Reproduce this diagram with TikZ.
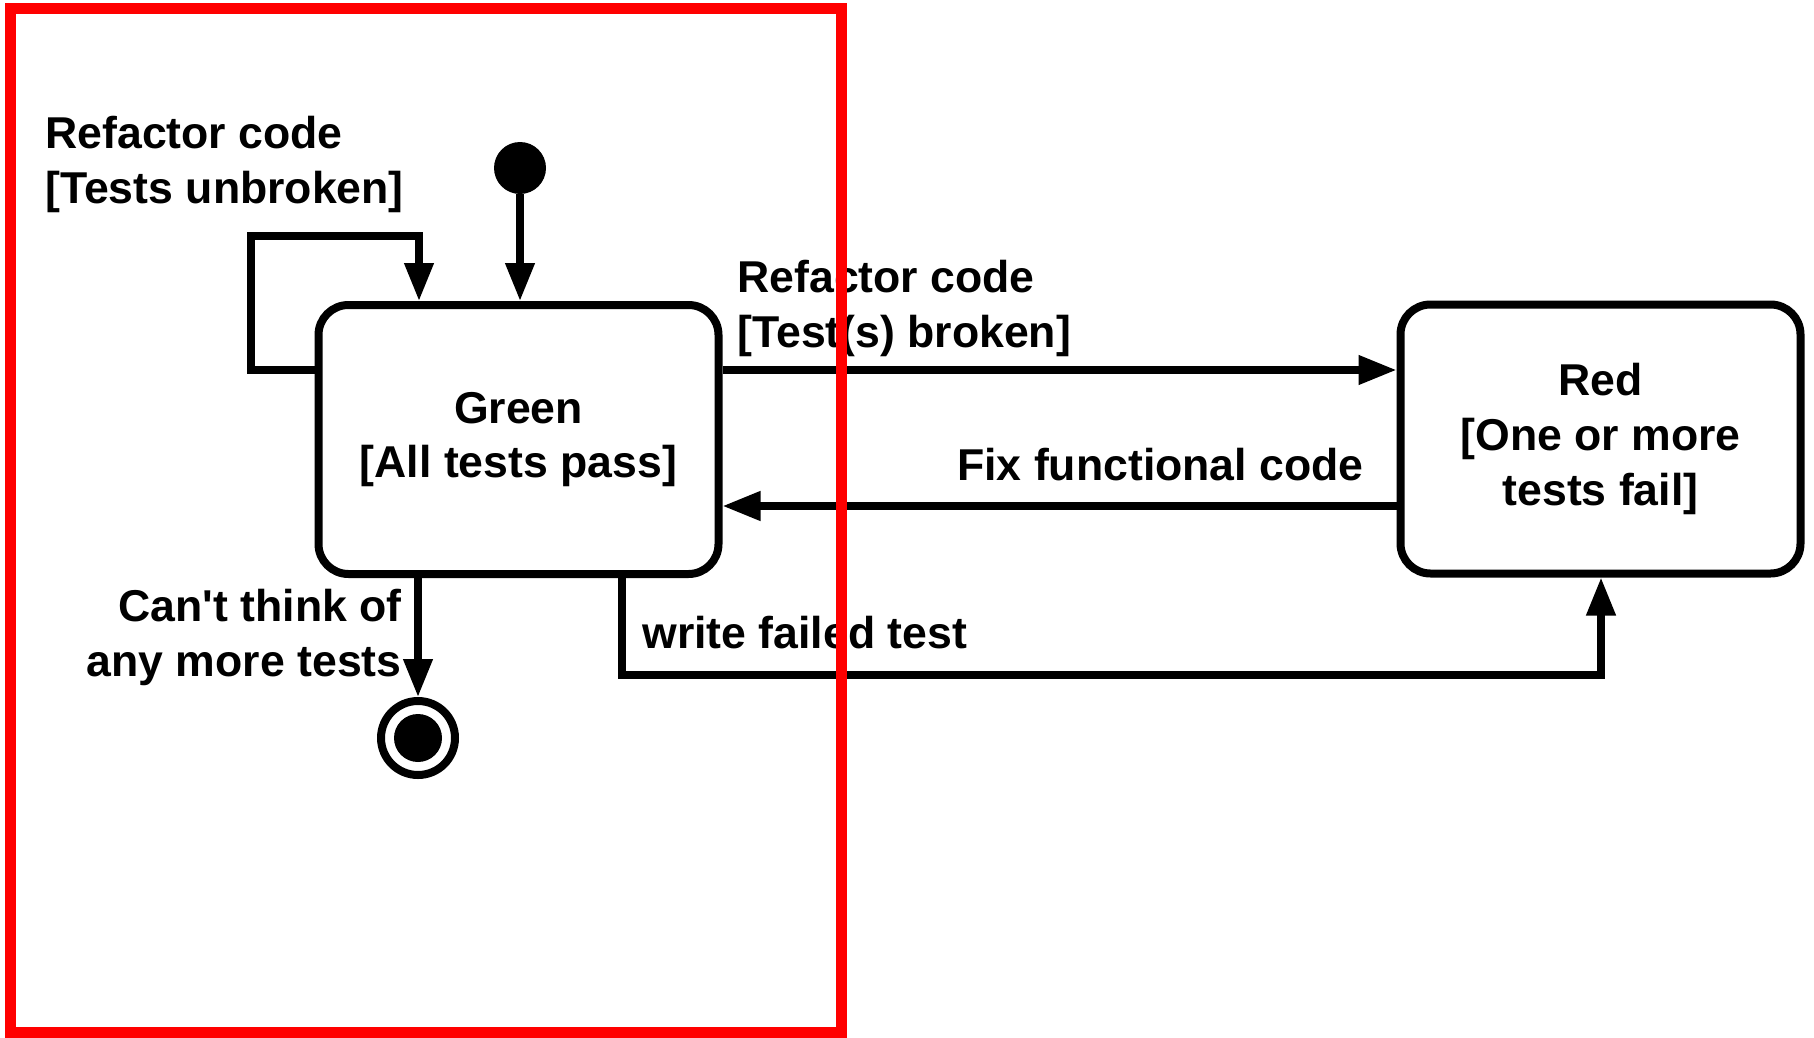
\documentclass[tikz,border=0pt]{standalone}
\usepackage{fontspec}
\setmainfont{Liberation Sans}
\usetikzlibrary{arrows.meta}
\begin{document}
\begin{tikzpicture}[x=0.5pt,y=-0.5pt,
  every node/.style={font=\bfseries\fontsize{22.3pt}{27.3pt}\selectfont, inner sep=0pt},
  state/.style={draw, line width=4pt, rounded corners=15pt, minimum width=200pt, minimum height=134.5pt, align=center},
  conn/.style={line width=3.7pt, -{Triangle[length=19pt,width=14pt]}},
  lbl/.style={align=left},
  lblr/.style={align=right},
  frame/.style={draw=red, line width=5.5pt}
]
\useasboundingbox (0,0) rectangle (1814,1038);
\fill[white] (0,0) rectangle (1814,1038);

% states
\node[state] (green) at (518.5,439.5) {Green\\{[}All tests pass{]}};
\node[state] (red) at (1600.5,439) {Red\\{[}One or more\\tests fail{]}};
\node[circle, fill=black, minimum size=26pt] (init) at (520,168) {};
\node[circle, draw, line width=4pt, minimum size=37pt] (final) at (418,738) {};
\node[circle, fill=black, minimum size=24pt] (finalin) at (418,738) {};

% bend points
\coordinate (l1) at (251,370);
\coordinate (l2) at (251,236);
\coordinate (l3) at (419,236);
\coordinate (r1) at (0,370);
\coordinate (f1) at (0,506);
\coordinate (w1) at (622,675);
\coordinate (w2) at (1601,675);

% connectors
\draw[conn] (init) -- (init |- green.north);
\draw[conn] (green.west |- l1) -- (l1) -- (l2) -- (l3) -- (l3 |- green.north);
\draw[conn] (green.east |- r1) -- (red.west |- r1);
\draw[conn] (red.west |- f1) -- (green.east |- f1);
\draw[conn] (final |- green.south) -- (final.north);
\draw[conn] (w1 |- green.south) -- (w1) -- (w2) -- (w2 |- red.south);

% labels (base anchor = baseline of last line)
\node[lbl, anchor=base west] (t1) at (45,203) {Refactor code\\{[}Tests unbroken{]}};
\node[lbl, anchor=base west] (t2) at (737,347) {Refactor code\\{[}Test(s) broken{]}};
\node[anchor=base east] (t3) at (1364,480) {Fix functional code};
\node[lblr, anchor=base east] (t4) at (402,676) {Can\textquotesingle t think of\\any more tests};
\node[anchor=base west] (t5) at (642,648) {write failed test};

% red frame
\draw[frame] (10,9) rectangle (841,1032);
\end{tikzpicture}
\end{document}
